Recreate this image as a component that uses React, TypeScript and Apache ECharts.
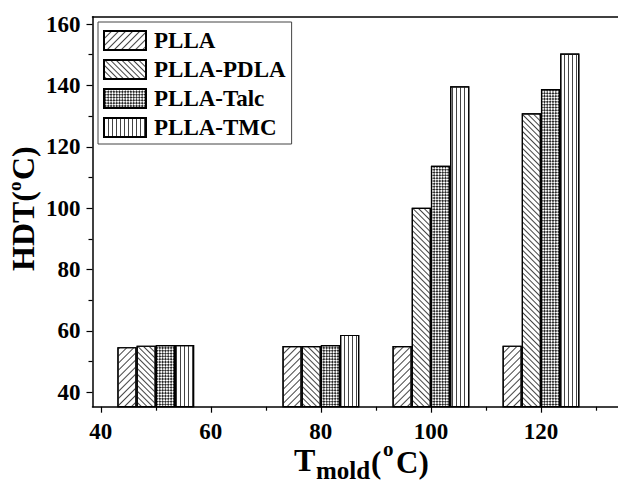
import React, { useEffect, useRef } from "react";
import * as echarts from "echarts";

const categories = [50, 80, 100, 120];
const seriesNames = ["PLLA", "PLLA-PDLA", "PLLA-Talc", "PLLA-TMC"];
const plla = [54.7, 55.1, 55.1, 55.2];
const pllaPdla = [55.2, 55.1, 100.1, 130.9];
const pllaTalc = [55.4, 55.4, 113.8, 138.8];
const pllaTmc = [55.4, 58.7, 139.7, 150.4];
const xMajorTicks = [40, 60, 80, 100, 120];
const xMinorTicks = [50, 70, 90, 110, 130];
const yMajorTicks = [40, 60, 80, 100, 120, 140, 160];
const yMinorTicks = [50, 70, 90, 110, 130, 150];

const FONT = "Liberation Serif";

const decals: any[] = [
  { symbol: "rect", symbolSize: 1, dashArrayX: [1, 4], dashArrayY: [1, 0], rotation: Math.PI / 4, color: "#444" },
  { symbol: "rect", symbolSize: 1, dashArrayX: [1, 2.2], dashArrayY: [1, 0], rotation: -Math.PI / 4, color: "#444" },
  { symbol: "rect", symbolSize: 1, dashArrayX: [[1.4, 1.4], [0, 1.4, 1.4, 0]], dashArrayY: [1.4, 0], rotation: Math.PI / 4, color: "#2a2a2a" },
  { symbol: "rect", symbolSize: 1, dashArrayX: [1, 2.8], dashArrayY: [1, 0], rotation: 0, color: "#444" },
];

export default function App() {
  const ref = useRef<HTMLDivElement>(null);
  useEffect(() => {
    if (!ref.current) return;
    const chart = echarts.init(ref.current, undefined, { renderer: "svg" });
    const allValues = [plla, pllaPdla, pllaTalc, pllaTmc];
    const labelStyle = { fontFamily: FONT, fontWeight: "bold" as const, fontSize: 23, color: "#000" };
    const option: any = {
      animation: false,
      backgroundColor: "#fff",
      grid: { left: 92.5, top: 16.7, width: 526, height: 390, containLabel: false },
      xAxis: [
        {
          type: "value", min: 38.5, max: 134, position: "bottom",
          axisLine: { show: true, lineStyle: { color: "#000", width: 1.5 } },
          axisTick: { show: true, inside: false, length: 6, customValues: xMajorTicks, lineStyle: { color: "#000", width: 1.2 } },
          axisLabel: { show: true, customValues: xMajorTicks, margin: 13, ...labelStyle },
          splitLine: { show: false },
        },
        {
          type: "value", min: 38.5, max: 134, position: "bottom",
          axisLine: { show: false },
          axisTick: { show: true, inside: false, length: 4, customValues: xMinorTicks, lineStyle: { color: "#000", width: 1.2 } },
          axisLabel: { show: false },
          splitLine: { show: false },
        },
        {
          type: "value", min: 38.5, max: 134, position: "top",
          axisLine: { show: true, onZero: false, lineStyle: { color: "#000", width: 1.5 } },
          axisTick: { show: false },
          axisLabel: { show: false },
          splitLine: { show: false },
        },
      ],
      yAxis: [
        {
          type: "value", min: 35.3, max: 162.4, position: "left",
          axisLine: { show: true, lineStyle: { color: "#000", width: 1.5 } },
          axisTick: { show: true, inside: false, length: 6, customValues: yMajorTicks, lineStyle: { color: "#000", width: 1.2 } },
          axisLabel: { show: true, customValues: yMajorTicks, margin: 12, ...labelStyle },
          splitLine: { show: false },
        },
        {
          type: "value", min: 35.3, max: 162.4, position: "left",
          axisLine: { show: false },
          axisTick: { show: true, inside: false, length: 4, customValues: yMinorTicks, lineStyle: { color: "#000", width: 1.2 } },
          axisLabel: { show: false },
          splitLine: { show: false },
        },
      ],
      legend: {
        show: true,
        orient: "vertical",
        left: 98,
        top: 22,
        padding: [7, 6, 5, 5],
        itemWidth: 42,
        itemHeight: 19,
        itemGap: 6,
        icon: "rect",
        borderColor: "#444",
        borderWidth: 1,
        backgroundColor: "#fff",
        data: seriesNames,
        textStyle: { ...labelStyle, fontSize: 23, padding: [0, 0, 0, 3] },
      },
      series: seriesNames.map((name, i) => ({
        name,
        type: "bar",
        xAxisIndex: 0,
        yAxisIndex: 0,
        barWidth: 19.2,
        barGap: "0%",
        clip: true,
        itemStyle: { color: "#fff", borderColor: "#000", borderWidth: 1.2, decal: decals[i] },
        data: categories.map((c, j) => [c, allValues[i][j]]),
      })),
      graphic: [
        {
          type: "group",
          x: 0,
          y: 271,
          rotation: Math.PI / 2,
          children: [
            { type: "text", x: 0, y: 23, style: { text: "HDT(", font: `bold 32px "${FONT}"`, fill: "#000", align: "left", verticalAlign: "middle" } },
            { type: "text", x: 80, y: 14, style: { text: "o", font: `bold 19px "${FONT}"`, fill: "#000", align: "left", verticalAlign: "middle" } },
            { type: "text", x: 91, y: 23, style: { text: "C)", font: `bold 32px "${FONT}"`, fill: "#000", align: "left", verticalAlign: "middle" } },
          ],
        },
        { type: "text", x: 294, y: 460, style: { text: "T", font: `bold 32px "${FONT}"`, fill: "#000", align: "left", verticalAlign: "middle" } },
        { type: "text", x: 316, y: 470, style: { text: "mold", font: `bold 25px "${FONT}"`, fill: "#000", align: "left", verticalAlign: "middle" } },
        { type: "text", x: 371, y: 462, style: { text: "(", font: `bold 31px "${FONT}"`, fill: "#000", align: "left", verticalAlign: "middle" } },
        { type: "text", x: 383, y: 449, style: { text: "o", font: `bold 21px "${FONT}"`, fill: "#000", align: "left", verticalAlign: "middle" } },
        { type: "text", x: 396, y: 462, style: { text: "C)", font: `bold 31px "${FONT}"`, fill: "#000", align: "left", verticalAlign: "middle" } },
      ],
    };
    chart.setOption(option);
    return () => chart.dispose();
  }, []);
  return <div ref={ref} style={{ position: "fixed", left: 0, top: 0, width: 618, height: 483, background: "#fff" }} />;
}
